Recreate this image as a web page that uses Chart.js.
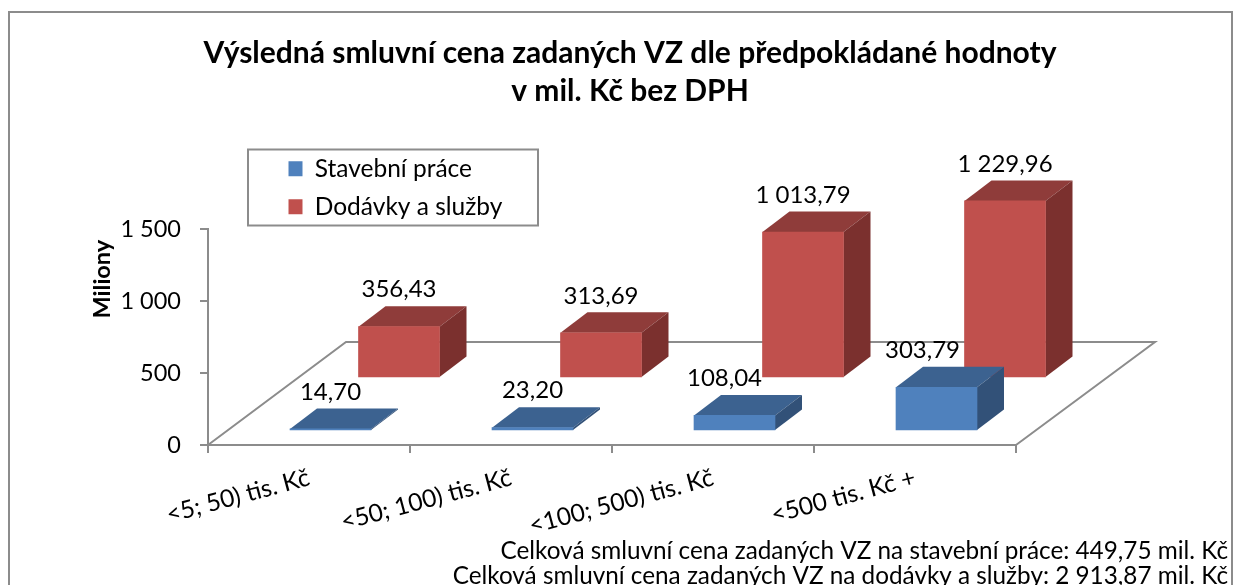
<!DOCTYPE html>
<html lang="cs"><head><meta charset="utf-8">
<script src="https://cdn.jsdelivr.net/npm/chart.js@4"></script>
<style>html,body{margin:0;padding:0;background:#fff;overflow:hidden}canvas{display:block}</style>
</head><body><canvas id="c" width="1242" height="585"></canvas>
<script>
const categories = ['<5; 50) tis. Kč', '<50; 100) tis. Kč', '<100; 500) tis. Kč', '<500 tis. Kč +'];
const stavebniPrace = [14.70, 23.20, 108.04, 303.79];
const dodavkySluzby = [356.43, 313.69, 1013.79, 1229.96];
const yTicks = [0, 500, 1000, 1500];
const titleLines = ['Výsledná smluvní cena zadaných VZ dle předpokládané hodnoty', 'v mil. Kč bez DPH'];
const footerLines = ['Celková smluvní cena zadaných VZ na stavební práce: 449,75 mil. Kč', 'Celková smluvní cena zadaných VZ na dodávky a služby: 2 913,87 mil. Kč'];

const FONT = 'Lato, "Open Sans", sans-serif';
const GREY = '#8c8c8c';
const czech = v => v.toLocaleString('cs-CZ', {minimumFractionDigits: 2, maximumFractionDigits: 2}).replace(/\s/g, ' ');
const DEPTH = {x: 27, y: -20.5};
const rows = [
  {dx: 21.5, dy: -14, top: '#3c6290', side: '#325178', labelDx: [0, 0, -10, -14]},
  {dx: 90, dy: -67, top: '#8f3c3a', side: '#7b302e', labelDx: [0, 0, 0, 0]}
];

const scene = {
  id: 'scene',
  afterLayout(chart) {
    const t = chart.titleBlock;
    t.left = 0; t.right = 1260;
    const s = chart.boxes.find(b => b !== t && b.options && Array.isArray(b.options.text));
    if (s) { s.left = 0; s.right = 1228; s.top += 3.5; s.bottom += 3.5; }
    const l = chart.legend;
    l.left = 275; l.right = 530; l.top = 143; l.bottom = 400;
  },
  beforeDraw(chart) {
    const c = chart.ctx;
    c.save();
    c.strokeStyle = GREY; c.lineWidth = 2;
    c.strokeRect(9, 12, 1223, 640);
    c.strokeRect(248, 149.5, 290, 76);
    c.restore();
  },
  beforeDatasetsDraw(chart) {
    const {left, right, bottom} = chart.chartArea;
    const c = chart.ctx;
    c.save();
    c.strokeStyle = GREY; c.lineWidth = 2;
    c.beginPath();
    c.moveTo(left, bottom); c.lineTo(left + 138, bottom - 103);
    c.lineTo(right + 139, bottom - 103); c.lineTo(right, bottom);
    c.stroke();
    c.restore();
  },
  beforeDatasetDraw(chart, args) {
    const r = rows[args.index], c = chart.ctx;
    c.save();
    c.translate(r.dx, r.dy);
    args.meta.data.forEach(bar => {
      const p = bar.getProps(['x', 'y', 'base', 'width'], true);
      const l = p.x - p.width / 2, g = p.x + p.width / 2;
      c.fillStyle = r.top;
      c.beginPath(); c.moveTo(l, p.y); c.lineTo(l + DEPTH.x, p.y + DEPTH.y);
      c.lineTo(g + DEPTH.x, p.y + DEPTH.y); c.lineTo(g, p.y); c.closePath(); c.fill();
      c.fillStyle = r.side;
      c.beginPath(); c.moveTo(g, p.y); c.lineTo(g + DEPTH.x, p.y + DEPTH.y);
      c.lineTo(g + DEPTH.x, p.base + DEPTH.y); c.lineTo(g, p.base); c.closePath(); c.fill();
    });
  },
  afterDatasetDraw(chart) { chart.ctx.restore(); },
  afterDatasetsDraw(chart) {
    const c = chart.ctx;
    c.save();
    c.font = '24px ' + FONT; c.fillStyle = '#000'; c.textAlign = 'center'; c.textBaseline = 'middle';
    rows.forEach((r, i) => {
      const meta = chart.getDatasetMeta(i);
      meta.data.forEach((bar, j) => {
        const p = bar.getProps(['x', 'y'], true);
        c.fillText(czech(chart.data.datasets[i].data[j]), p.x + r.dx + r.labelDx[j], p.y + r.dy + DEPTH.y - 16.5);
      });
    });
    c.restore();
  }
};

new Chart(document.getElementById('c'), {
  type: 'bar',
  data: {
    labels: categories,
    datasets: [
      {label: 'Stavební práce', data: stavebniPrace, backgroundColor: '#4f81bd'},
      {label: 'Dodávky a služby', data: dodavkySluzby, backgroundColor: '#c0504d'}
    ]
  },
  plugins: [scene],
  options: {
    responsive: false, animation: false,
    layout: {padding: {left: 0, right: 226, top: 0, bottom: 0}},
    datasets: {bar: {barThickness: 81, grouped: false}},
    scales: {
      x: {
        afterFit: s => { s.height = 89.6; },
        grid: {drawOnChartArea: false, color: GREY, lineWidth: 2, tickLength: 8, offset: true},
        border: {color: GREY, width: 2},
        ticks: {color: '#000', font: {family: FONT, size: 24.5}, minRotation: 15, maxRotation: 15, padding: 10}
      },
      y: {
        min: 0, max: 1500,
        afterFit: s => { s.width = 208; },
        afterBuildTicks: s => { s.ticks = yTicks.map(value => ({value})); },
        grid: {drawOnChartArea: false, color: GREY, lineWidth: 2, tickLength: 8},
        border: {color: GREY, width: 2},
        title: {display: true, text: 'Miliony\u00a0\u00a0', align: 'end', color: '#000', font: {family: FONT, size: 23.5, weight: 'bold'}, padding: {top: 88, bottom: 0}},
        ticks: {color: '#000', font: {family: FONT, size: 23.5}, padding: 19, callback: v => String(v).replace(/\B(?=(\d{3})+$)/g, ' ')}
      }
    },
    plugins: {
      tooltip: {enabled: false},
      title: {display: true, text: titleLines, color: '#000', font: {family: FONT, size: 30, weight: 'bold', lineHeight: 38 / 30}, padding: {top: 34, bottom: 119}},
      subtitle: {display: true, position: 'bottom', align: 'end', text: footerLines, color: '#000', font: {family: FONT, size: 24.3, lineHeight: 25.2 / 24.3}, padding: {top: 0, bottom: 0}},
      legend: {position: 'chartArea', align: 'start', labels: {color: '#000', font: {family: FONT, size: 24.5}, boxWidth: 14, boxHeight: 15, padding: 13.5}}
    }
  }
});
</script></body></html>
